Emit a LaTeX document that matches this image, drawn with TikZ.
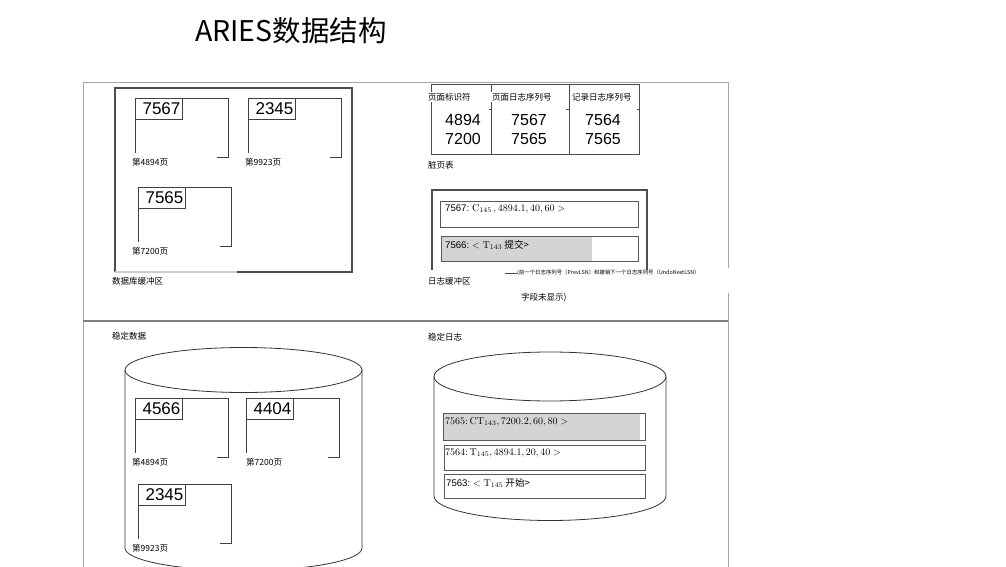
\documentclass[tikz,border=0pt]{standalone}
\usepackage[no-math]{fontspec}
\setmainfont{Noto Sans CJK SC}
\newfontfamily\numfont{Liberation Sans}

\newcommand{\bufpage}[6]{%
  \draw[pageline] (#2+82,#3+59) -- (#2+93,#3+59) -- (#2+93,#3) -- (#2,#3) -- (#2,#3+55);
  \node[lsnbox,anchor=north west] (#1) at (#2,#3) {#4};
  \node[small,anchor=west] (#1-lbl) at (#6,#3+64) {#5};
}

\begin{document}
\begin{tikzpicture}[x=1pt,y=-1pt,
    frame/.style={draw=black!35,line width=0.9pt},
    pageline/.style={draw=black!75,line width=0.8pt},
    lsnbox/.style={draw=black!75,line width=0.8pt,minimum width=47,minimum height=21,inner sep=0pt,
      text width=43,align=right,font=\numfont\fontsize{17}{17}\selectfont},
    small/.style={inner sep=0pt,font=\fontsize{8.5}{9}\selectfont},
    rec/.style={draw=black!65,line width=0.8pt},
    rectext/.style={inner sep=0pt,anchor=west,font=\fontsize{9.6}{10}\selectfont},
    num/.style={inner sep=0pt,font=\numfont\fontsize{16}{16}\selectfont},
    drum/.style={draw=black!80,line width=0.8pt}]
  \useasboundingbox (0,0) rectangle (1006,567);

  \node[inner sep=0pt,anchor=west,font=\fontsize{28.5}{28.5}\selectfont] (title) at (195,31) {ARIES数据结构};

  % outer frame
  \draw[frame] (83,567) -- (83,82) -- (728,82) -- (728,268);
  \draw[frame] (728,293) -- (728,567);
  \draw[draw=black!50,line width=1.2pt] (83,321) -- (728,321);

  % database buffer
  \draw[draw=black!70,line width=1.1pt] (237,272) -- (352,272) -- (352,88) -- (115,88) -- (115,272);
  \draw[draw=black!20,line width=1.1pt] (115,272) -- (237,272);
  \bufpage{b1}{135}{98}{7567}{第4894页}{132}
  \bufpage{b2}{248}{98}{2345}{第9923页}{245}
  \bufpage{b3}{138}{187}{7565}{第7200页}{132}
  \node[small,anchor=west] (dbbuf) at (112,281) {数据库缓冲区};

  % dirty page table
  \draw[draw=black!70,line width=0.9pt] (431,84) rectangle (639,154);
  \draw[draw=black!70,line width=0.9pt] (491,84) -- (491,154) (569,84) -- (569,154);
  \foreach \tx in {489,566,637}
    \draw[draw=black!70,line width=0.9pt] (\tx,109) -- (\tx+3,109);
  \node[small,anchor=west,fill=white,inner sep=1pt] (h1) at (427,97) {页面标识符};
  \node[small,anchor=west,fill=white,inner sep=1pt] (h2) at (491,97) {页面日志序列号};
  \node[small,anchor=west,fill=white,inner sep=1pt] (h3) at (571,97) {记录日志序列号};
  \node[num] (p1) at (463,120) {4894};
  \node[num] (p2) at (463,139) {7200};
  \node[num] (r1) at (529,120) {7567};
  \node[num] (r2) at (529,139) {7565};
  \node[num] (c1) at (603,120) {7564};
  \node[num] (c2) at (603,139) {7565};
  \node[small,anchor=west] (dpt) at (428,165) {脏页表};

  % log buffer
  \draw[draw=black!70,line width=1.1pt] (432,270) -- (432,190) -- (647,190) -- (647,270);
  \draw[rec] (440,201) rectangle (638,227);
  \fill[black!17] (441,236) rectangle (592,261);
  \draw[rec] (441,236) rectangle (638,261);
  \node[rectext] (lb1) at (445,209) {{\numfont 7567:} $\mathrm{C}_{145}\,, 4894.1, 40, 60 >$};
  \node[rectext] (lb2) at (445,245) {{\numfont 7566:} $<\mathrm{T}_{143}$ 提交>};
  \node[small,anchor=west] (logbuf) at (428,281) {日志缓冲区};
  \coordinate (dash) at (505,273);
  \node[inner sep=0pt,anchor=west,font=\fontsize{5.4}{5.4}\selectfont] (note) at (517,273) {(前一个日志序列号（PrevLSN）和撤销下一个日志序列号（UndoNextLSN）};
  \draw[draw=black!70,line width=0.9pt] (dash) -- (note.west);
  \node[small,anchor=west] (note2) at (521,298) {字段未显示)};

  % stable data
  \node[small,anchor=west] (sdata) at (112,336) {稳定数据};
  \draw[drum] (243.5,370) ellipse [x radius=118.5,y radius=22.5];
  \draw[drum] (125,370) -- (125,548) arc[start angle=180,end angle=0,x radius=118.5,y radius=22.5] -- (362,370);
  \bufpage{s1}{135}{398}{4566}{第4894页}{132}
  \bufpage{s2}{246}{398}{4404}{第7200页}{246}
  \bufpage{s3}{138}{484}{2345}{第9923页}{132}

  % stable log
  \node[small,anchor=west] (slog) at (428,337) {稳定日志};
  \draw[drum] (550,376.5) ellipse [x radius=116,y radius=24.5];
  \draw[drum] (434,376.5) -- (434,496) arc[start angle=180,end angle=0,x radius=116,y radius=24.5] -- (666,376.5);
  \fill[black!17] (443,413) rectangle (640,440);
  \draw[rec] (443,413) rectangle (645,440);
  \draw[rec] (444,445) rectangle (645,470);
  \draw[rec] (444,474) rectangle (645,498);
  \node[rectext] (sl1) at (445,422) {$7565\colon \mathrm{CT}_{143}, 7200.2, 60, 80 >$};
  \node[rectext] (sl2) at (445,453) {$7564\colon \mathrm{T}_{145}, 4894.1, 20, 40 >$};
  \node[rectext] (sl3) at (446,483) {{\numfont 7563:} $<\mathrm{T}_{145}$ 开始>};
\end{tikzpicture}
\end{document}
